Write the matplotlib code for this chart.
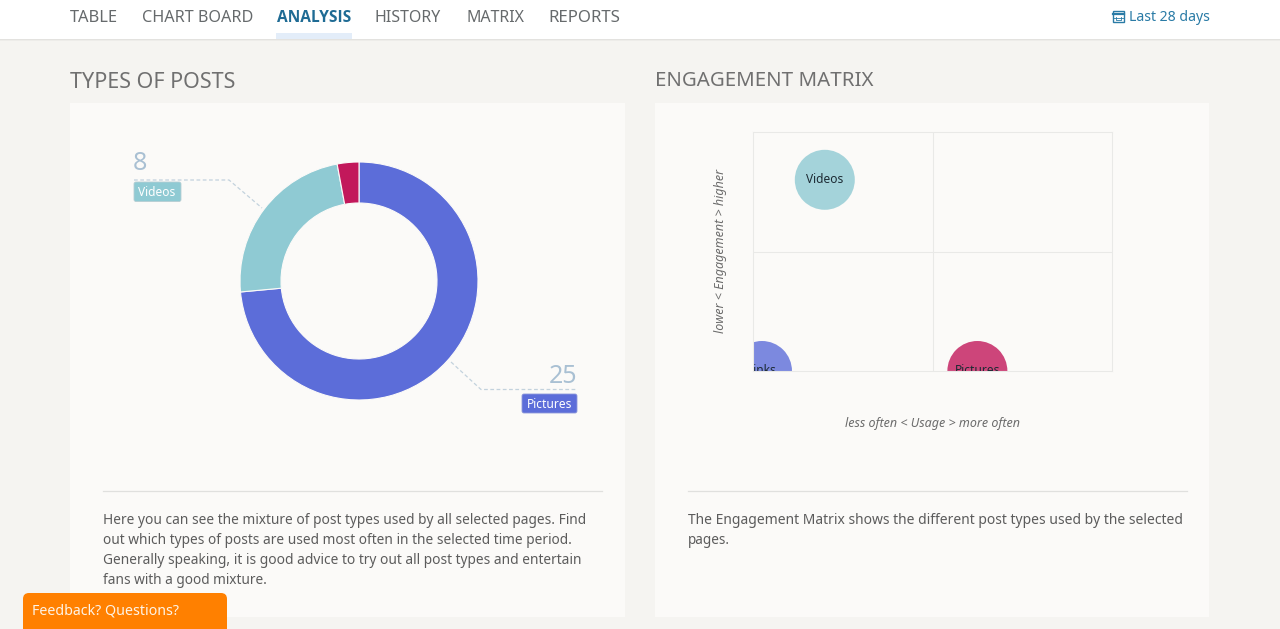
import matplotlib
matplotlib.use("Agg")
import matplotlib.pyplot as plt
from matplotlib.patches import Rectangle, FancyBboxPatch

plt.rcParams['font.family'] = ['Noto Sans', 'DejaVu Sans']

# Data
donut_labels = ["Pictures", "Videos", "Links"]
donut_values = [25, 8, 1]
donut_colors = ["#5c6dd9", "#8fcad3", "#c2185b"]

matrix_labels = ["Links", "Videos", "Pictures"]
matrix_usage = [1, 8, 25]
matrix_engagement = [0.0, 0.8, 0.0]
matrix_colors = ["#5c6dd9", "#8fcad3", "#c2185b"]

nav_items = ["TABLE", "CHART BOARD", "ANALYSIS", "HISTORY", "MATRIX", "REPORTS"]
nav_x = [70, 142, 277, 375, 466, 548]
nav_w = [48, 111, 75, 66, 58, 72]

W, H = 1280, 629
fig = plt.figure(figsize=(12.8, 6.29), dpi=100, facecolor="#f5f4f1")
bg = fig.add_axes([0, 0, 1, 1])
bg.set_xlim(0, W)
bg.set_ylim(H, 0)
bg.axis("off")


def fitted(x, y, s, width, size, **kw):
    """Place text starting at x and stretch its size to the wanted pixel width."""
    t = bg.text(x, y, s, fontsize=size, va="center", ha="left", **kw)
    r = fig.canvas.get_renderer()
    t.set_fontsize(size * width / t.get_window_extent(r).width)
    return t


# header
for i, alpha in enumerate([0.28, 0.14, 0.06]):
    bg.add_patch(Rectangle((0, 38 + i), W, 1, fc="#777777", alpha=alpha, lw=0))
bg.add_patch(Rectangle((0, 0), W, 38.5, fc="white", lw=0))
bg.add_patch(Rectangle((276, 33), 76, 5.5, fc="#e3edf9", lw=0))
for name, x, w in zip(nav_items, nav_x, nav_w):
    active = name == "ANALYSIS"
    if active:
        fitted(x, 18, name, w, 10.5, color="#1f6b94", fontweight="bold", family="Open Sans")
    else:
        fitted(x, 18.5, name, w, 10.5, color="#666a6c")

# calendar icon + range
bg.add_patch(Rectangle((1113, 11), 11, 11, fc="none", ec="#2a7ba6", lw=1))
bg.plot([1113, 1124], [14, 14], color="#2a7ba6", lw=1.6)
bg.plot([1116, 1116, 1121, 1121], [17, 20, 20, 17], color="#2a7ba6", lw=0.6)
bg.plot([1113, 1124], [17.5, 17.5], color="#2a7ba6", lw=0.6)
fitted(1129, 17.5, "Last 28 days", 81, 10, color="#2a7ba6")

# panel titles
fitted(70, 82.5, "TYPES OF POSTS", 166, 13, color="#707070")
fitted(655, 81.5, "ENGAGEMENT MATRIX", 218, 13, color="#707070")

# panels
for x0, x1, rx0, rx1 in [(70, 625, 103, 602), (655, 1209, 688, 1187)]:
    bg.add_patch(Rectangle((x0, 103), x1 - x0, 514, fc="#fbfaf8", lw=0))
    bg.plot([rx0, rx1], [491, 491], color="#e0e0de", lw=0.9)

# donut
cx, cy, R = 359, 281, 119
ax = fig.add_axes([(cx - R) / W, 1 - (cy + R) / H, 2 * R / W, 2 * R / H])
ax.pie(donut_values, colors=donut_colors, startangle=90, counterclock=False, radius=1,
       wedgeprops=dict(width=41 / 119, edgecolor="#fbfaf8", linewidth=0.8))
ax.set_xlim(-1, 1)
ax.set_ylim(-1, 1)
ax.set_aspect("auto")
ax.patch.set_alpha(0)

# donut callouts
dash = dict(color="#c3d2dd", lw=0.9, ls=(0, (3, 2)))
bg.plot([134, 229, 262], [180, 180, 208], **dash)
bg.plot([451, 481, 577], [362, 389.5, 389.5], **dash)
bg.text(133, 164, str(donut_values[1]), fontsize=18, color="#a9c0d3", ha="left", va="center")
bg.text(577, 376.5, str(donut_values[0]), fontsize=18, color="#a9c0d3", ha="right", va="center")
bg.add_patch(FancyBboxPatch((134, 182), 47, 19.5, boxstyle="round,pad=0,rounding_size=2",
                            fc=donut_colors[1], ec="#b6cdd3", lw=0.6))
bg.add_patch(FancyBboxPatch((522, 394), 55, 19, boxstyle="round,pad=0,rounding_size=2",
                            fc=donut_colors[0], ec="#8f9ad9", lw=0.6))
bg.text(157, 193, donut_labels[1], fontsize=8.6, color="white", ha="center", va="center")
bg.text(549.5, 404.5, donut_labels[0], fontsize=8.6, color="white", ha="center", va="center")

# matrix
mx0, mx1, my0, my1 = 753, 1112, 132, 371
m = fig.add_axes([mx0 / W, 1 - my1 / H, (mx1 - mx0) / W, (my1 - my0) / H])
m.set_xlim(0, 40)
m.set_ylim(0, 1)
m.patch.set_alpha(0)
m.scatter(matrix_usage, matrix_engagement, s=(60 * 0.72) ** 2, c=matrix_colors,
          alpha=0.8, linewidths=0, zorder=2)
for lab, xv, yv in zip(matrix_labels, matrix_usage, matrix_engagement):
    t = m.text(xv, yv, lab, fontsize=8.6, color="#1c2a33", ha="center", va="center",
               clip_on=True, zorder=3)
m.axvline(20, color="#e9e9e7", lw=0.8, zorder=1)
m.axhline(0.5, color="#e9e9e7", lw=0.8, zorder=1)
m.set_xticks([])
m.set_yticks([])
for s in m.spines.values():
    s.set_color("#e9e9e7")
    s.set_linewidth(0.8)
m.set_xlabel("less often < Usage > more often", fontsize=9, style="italic",
             color="#6c6c6c", labelpad=33)
m.set_ylabel("lower < Engagement > higher", fontsize=9, style="italic",
             color="#6c6c6c", labelpad=19)
m.yaxis.label.set_y((371 - 250.5) / 239)

# body text
body = ["Here you can see the mixture of post types used by all selected pages. Find",
        "out which types of posts are used most often in the selected time period.",
        "Generally speaking, it is good advice to try out all post types and entertain",
        "fans with a good mixture."]
body_w = [484, 469, 479, 164]
for i, (line, w) in enumerate(zip(body, body_w)):
    fitted(103, 520 + 20 * i, line, w, 10, color="#5c5c5c")
fitted(688, 520, "The Engagement Matrix shows the different post types used by the selected", 495, 10,
       color="#5c5c5c")
fitted(688, 540, "pages.", 42, 10, color="#5c5c5c")

# feedback button
bg.add_patch(FancyBboxPatch((23, 593), 204, 50, boxstyle="round,pad=0,rounding_size=6",
                            fc="#ff8000", lw=0, zorder=5))
fitted(32, 611, "Feedback? Questions?", 147, 10, color="#fdf3e6", zorder=6)

fig.savefig("out.png", dpi=100, facecolor=fig.get_facecolor())
